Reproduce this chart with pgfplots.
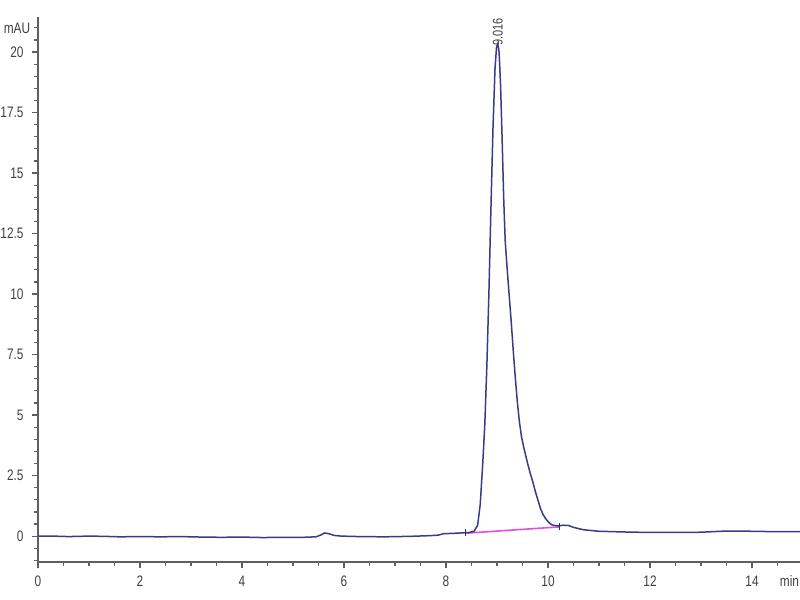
\documentclass[border=0pt]{standalone}
\usepackage{pgfplots}
\pgfplotsset{compat=1.18}
\usepackage{fontspec}
\setmainfont{Liberation Sans}
\newfontfamily\tickfont[FakeStretch=0.78]{Liberation Sans}
\definecolor{trace}{RGB}{58,58,135}
\definecolor{basel}{RGB}{222,80,222}
\definecolor{axisgray}{RGB}{95,95,95}
\begin{document}
\begin{tikzpicture}
\useasboundingbox (0,0) rectangle (400pt,300pt);
\begin{axis}[
  at={(19pt,19pt)}, anchor=south west,
  scale only axis, width=381pt, height=272.5pt,
  xmin=0, xmax=14.94, ymin=-1.07, ymax=21.45,
  axis lines=left,
  x axis line style={-}, y axis line style={-},
  axis line style={draw=axisgray, line width=0.8pt},
  every tick/.style={draw=axisgray, line width=0.6pt},
  tick align=outside,
  major tick length=3.2pt, minor tick length=1.8pt,
  xtick={0,2,...,14},
  minor xtick={0.5,1,...,15},
  ytick={0,2.5,...,20},
  minor ytick={-1,-0.5,...,21.5},
  scaled ticks=false,
  /pgf/number format/assume math mode=true,
  tick label style={font=\tickfont\fontsize{7.6}{8}\selectfont, text=black!75},
  yticklabel style={xshift=-0.5pt},
  xticklabel style={yshift=-0.3pt},
  clip=false,
]
\addplot[basel, line width=0.8pt] coordinates {(8.38,0.12) (10.22,0.38)};
\addplot[trace, line width=0.75pt] coordinates {
(0,0.0) (0.3,0.0) (0.6,-0.02) (1.0,0.0) (1.3,-0.01) (1.6,-0.03) (2.0,-0.02)
(2.4,-0.03) (2.8,-0.02) (3.2,-0.04) (3.6,-0.05) (4.0,-0.04) (4.4,-0.06)
(4.8,-0.05) (5.2,-0.05) (5.45,-0.03) (5.55,0.05) (5.62,0.13) (5.7,0.1)
(5.8,0.03) (5.95,0.0) (6.3,-0.02) (6.8,-0.03) (7.3,-0.01) (7.7,0.02)
(7.85,0.04) (7.95,0.1) (8.1,0.11) (8.3,0.13) (8.45,0.15) (8.55,0.2)
(8.62,0.45) (8.67,1.3) (8.72,3.0) (8.76,4.6) (8.8,7.0) (8.84,10.0)
(8.88,13.5) (8.92,16.8) (8.96,19.3) (8.99,20.2) (9.016,20.35) (9.04,20.0)
(9.07,18.6) (9.1,16.4) (9.13,14.0) (9.16,12.2) (9.2,11.0) (9.24,9.9)
(9.28,8.8) (9.32,7.6) (9.36,6.5) (9.4,5.5) (9.44,4.7) (9.48,4.1)
(9.52,3.7) (9.56,3.35) (9.6,3.0) (9.65,2.6) (9.7,2.25) (9.75,1.85)
(9.8,1.5) (9.85,1.15) (9.9,0.9) (9.95,0.73) (10.0,0.6) (10.05,0.5)
(10.1,0.45) (10.2,0.42) (10.3,0.45) (10.4,0.44) (10.5,0.36)
(10.7,0.26) (11.0,0.2) (11.5,0.17) (12.0,0.15) (12.5,0.15) (13.0,0.16)
(13.5,0.21) (14.0,0.2) (14.5,0.18) (14.94,0.18)
};
\addplot[black!80, line width=0.5pt] coordinates {(8.38,0.02) (8.38,0.3)};
\addplot[black!80, line width=0.5pt] coordinates {(10.22,0.25) (10.22,0.55)};
\node[rotate=90, anchor=west, inner sep=0.5pt, text=black!75,
  font=\tickfont\fontsize{7}{8}\selectfont] at (axis cs:9.016,20.2) {9.016};
\end{axis}
\node[anchor=center, text=black!75, font=\tickfont\fontsize{7.6}{8}\selectfont] at (8.5pt,286pt) {mAU};
\node[anchor=east, inner sep=0.3pt, text=black!75, font=\tickfont\fontsize{7.6}{8}\selectfont] at (400pt,9.5pt) {min};
\end{tikzpicture}
\end{document}
